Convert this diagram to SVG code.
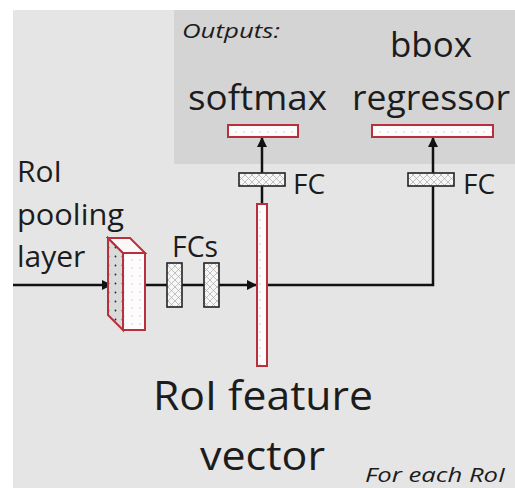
<svg xmlns="http://www.w3.org/2000/svg" width="515" height="488" viewBox="0 0 515 488">
<defs>
<style>
.t{font-family:"Open Sans","Noto Sans",sans-serif;fill:#1c1c1c;}
.it{font-family:"Open Sans","Noto Sans",sans-serif;font-style:italic;fill:#1c1c1c;}
.ln{stroke:#111;stroke-width:2.5;fill:none;}
.bar{fill:url(#dots);stroke:#b8303c;stroke-width:2;}
.fc{fill:url(#hatch);stroke:#222;stroke-width:1.6;}
</style>
<pattern id="dots" width="8" height="8" patternUnits="userSpaceOnUse">
<rect width="8" height="8" fill="#fdfbfb"/>
<circle cx="4" cy="4" r="0.6" fill="#9a9a9a"/>
</pattern>
<pattern id="sdots" width="7" height="9" patternUnits="userSpaceOnUse">
<rect width="7" height="9" fill="#d9dada"/>
<circle cx="3.5" cy="4.5" r="0.9" fill="#222"/>
</pattern>
<pattern id="hatch" width="7" height="7" patternUnits="userSpaceOnUse">
<rect width="7" height="7" fill="#f7f7f7"/>
<path d="M0,0L7,7M7,0L0,7" stroke="#a8a8a8" stroke-width="0.7"/>
</pattern>
<marker id="ah" viewBox="0 0 10 10" refX="9" refY="5" markerWidth="4" markerHeight="4" orient="auto-start-reverse" markerUnits="strokeWidth">
<path d="M0,0L10,5L0,10z" fill="#111"/>
</marker>
</defs>
<rect width="515" height="488" fill="#ffffff"/>
<rect x="13" y="10" width="502" height="478" fill="#e6e5e5"/>
<g id="outputs-panel">
<rect x="174" y="10" width="341" height="154" fill="#d5d4d4"/>
<text class="it" x="182" y="38" font-size="20" textLength="98" lengthAdjust="spacingAndGlyphs">Outputs:</text>
</g>
<g id="connectors">
<line class="ln" x1="13" y1="285" x2="111" y2="285" marker-end="url(#ah)"/>
<line class="ln" x1="145" y1="285" x2="167" y2="285"/>
<line class="ln" x1="182" y1="285" x2="204" y2="285"/>
<line class="ln" x1="219" y1="285" x2="256" y2="285" marker-end="url(#ah)"/>
<polyline class="ln" points="267,285 433,285 433,186"/>
<line class="ln" x1="262" y1="205" x2="262" y2="186"/>
<line class="ln" x1="262" y1="173" x2="262" y2="138" marker-end="url(#ah)"/>
<line class="ln" x1="433" y1="173" x2="433" y2="138" marker-end="url(#ah)"/>
</g>
<g id="roi-pooling">
<text class="t" x="17" y="182" font-size="30">RoI</text>
<text class="t" x="17" y="225" font-size="30" textLength="107" lengthAdjust="spacingAndGlyphs">pooling</text>
<text class="t" x="17" y="267" font-size="30">layer</text>
<polygon points="108,238 123,253 123,330 108,315" fill="url(#sdots)" stroke="#b8303c" stroke-width="2"/>
<polygon points="108,238 130,238 145,253 123,253" fill="#fbf8f8" stroke="#b8303c" stroke-width="2"/>
<rect x="123" y="253" width="22" height="77" fill="url(#dots)" stroke="#b8303c" stroke-width="2"/>
</g>
<g id="fcs">
<text class="t" x="172" y="257" font-size="29" textLength="46" lengthAdjust="spacingAndGlyphs">FCs</text>
<rect class="fc" x="167" y="263" width="15" height="44"/>
<rect class="fc" x="204" y="263" width="15" height="44"/>
</g>
<g id="roi-feature-vector">
<rect class="bar" x="257" y="204" width="10" height="162"/>
<text class="t" x="153" y="410" font-size="40" textLength="220" lengthAdjust="spacingAndGlyphs">RoI feature</text>
<text class="t" x="200" y="470" font-size="40" textLength="125" lengthAdjust="spacingAndGlyphs">vector</text>
</g>
<g id="fc-softmax">
<rect class="fc" x="239" y="173" width="46" height="13"/>
<text class="t" x="293" y="194" font-size="28">FC</text>
</g>
<g id="fc-bbox">
<rect class="fc" x="408" y="173" width="46" height="13"/>
<text class="t" x="463" y="194" font-size="28">FC</text>
</g>
<g id="softmax">
<text class="t" x="188" y="110" font-size="35" textLength="139" lengthAdjust="spacingAndGlyphs">softmax</text>
<rect class="bar" x="228" y="125" width="70" height="12"/>
</g>
<g id="bbox-regressor">
<text class="t" x="390" y="57" font-size="35" textLength="82" lengthAdjust="spacingAndGlyphs">bbox</text>
<text class="t" x="352" y="110" font-size="35" textLength="158" lengthAdjust="spacingAndGlyphs">regressor</text>
<rect class="bar" x="372" y="125" width="121" height="12"/>
</g>
<text class="it" x="365" y="482" font-size="20" textLength="140" lengthAdjust="spacingAndGlyphs">For each RoI</text>
</svg>
